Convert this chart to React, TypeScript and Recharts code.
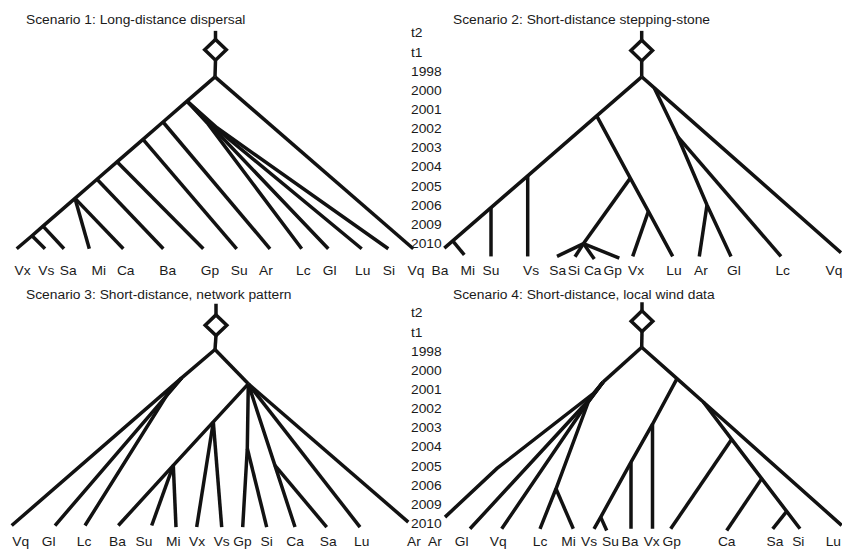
import React from "react";
import { LineChart, Line, XAxis, YAxis } from "recharts";

type Pt = [number, number];

// time levels shown between the panels (0 = t2 ... 11 = 2010)
const YEARS = ["t2", "t1", "1998", "2000", "2001", "2002", "2003", "2004", "2005", "2006", "2009", "2010"];
const YEAR_TICKS = YEARS.map((_, i) => i);

// Scenario 1
const S1_TITLE = "Scenario 1: Long-distance dispersal";
const S1_LABELS = ["Vx", "Vs", "Sa", "Mi", "Ca", "Ba", "Gp", "Su", "Ar", "Lc", "Gl", "Lu", "Si", "Vq"];
const S1_LABEL_X = [2.25, 4.63, 6.83, 9.87, 12.57, 16.77, 21.0, 23.93, 26.6, 30.33, 32.97, 36.27, 38.9, 41.6];
const S1_ORIGIN = { x: 21.55, top: -0.12, mid: 0.87 };
const S1_NODES: Record<string, Pt> = {
  R: [21.5, 2.28], A: [18.7, 3.55], B: [16.3, 4.64], C: [14.3, 5.55], D: [11.7, 6.72],
  E: [9.7, 7.63], F: [7.5, 8.63], G: [4.3, 10.08], H: [3.2, 10.58],
  k1: [20.8, 4.74], k2: [21.1, 4.84], k3: [21.4, 4.89], k4: [21.7, 4.94],
  Vx: [1.67, 11.26], Vs: [4.5, 11.26], Sa: [6.4, 11.26], Mi: [8.93, 11.26], Ca: [12.33, 11.26],
  Ba: [16.33, 11.26], Gp: [20.33, 11.26], Su: [23.67, 11.26], Ar: [27.0, 11.26], Lc: [30.17, 11.26],
  Gl: [32.83, 11.26], Lu: [36.17, 11.26], Si: [38.83, 11.26], Vq: [41.33, 11.26],
};
const S1_PATHS = [
  ["R", "A", "B", "C", "D", "E", "F", "G", "H", "Vx"], ["R", "Vq"], ["H", "Vs"], ["G", "Sa"],
  ["F", "Mi"], ["F", "Ca"], ["E", "Ba"], ["D", "Gp"], ["C", "Su"], ["B", "Ar"],
  ["A", "k1", "Lc"], ["A", "k2", "Gl"], ["A", "k3", "Lu"], ["A", "k4", "Si"],
];

// Scenario 2
const S2_TITLE = "Scenario 2: Short-distance stepping-stone";
const S2_LABELS = ["Ba", "Mi", "Su", "Vs", "Sa", "Si", "Ca", "Gp", "Vx", "Lu", "Ar", "Gl", "Lc", "Vq"];
const S2_LABEL_X = [1.9, 4.67, 7.0, 11.0, 13.67, 15.3, 17.17, 19.17, 21.5, 25.3, 28.0, 31.3, 36.17, 41.3];
const S2_ORIGIN = { x: 22.07, top: -0.12, mid: 0.91 };
const S2_NODES: Record<string, Pt> = {
  R: [22.07, 2.28], P: [17.57, 4.32], Q: [10.67, 7.45], Sn: [7.0, 9.11], Bn: [3.17, 10.85],
  Cn: [20.93, 7.57], Xn: [22.74, 9.31], Kn: [16.25, 10.99], V: [23.33, 2.86], T: [25.67, 5.4], U: [28.6, 8.97],
  Ba: [2.33, 11.23], Mi: [4.33, 11.58], Su: [7.0, 11.66], Vs: [10.67, 11.66], Sa: [13.6, 11.66],
  Si: [15.4, 11.68], Ca: [17.33, 11.8], Gp: [19.83, 11.75], Vx: [21.17, 11.66], Lu: [25.17, 11.66],
  Ar: [27.83, 11.66], Gl: [31.0, 11.66], Lc: [36.0, 11.66], Vq: [42.0, 11.46],
};
const S2_PATHS = [
  ["R", "P", "Q", "Sn", "Bn", "Ba"], ["Bn", "Mi"], ["Sn", "Su"], ["Q", "Vs"],
  ["P", "Cn", "Xn", "Lu"], ["Xn", "Vx"], ["Cn", "Kn"], ["Kn", "Sa"], ["Kn", "Si"], ["Kn", "Ca"], ["Kn", "Gp"],
  ["R", "V", "Vq"], ["V", "T", "U", "Gl"], ["T", "Lc"], ["U", "Ar"],
];

// Scenario 3
const S3_TITLE = "Scenario 3: Short-distance, network pattern";
const S3_LABELS = ["Vq", "Gl", "Lc", "Ba", "Su", "Mi", "Vx", "Vs", "Gp", "Si", "Ca", "Sa", "Lu", "Ar"];
const S3_LABEL_X = [2.07, 4.87, 8.4, 11.75, 14.4, 17.33, 19.7, 22.17, 24.25, 26.67, 29.5, 32.83, 36.17, 41.4];
const S3_ORIGIN = { x: 21.6, top: -0.49, mid: 0.63 };
const S3_NODES: Record<string, Pt> = {
  R: [21.5, 1.9], L1: [18.17, 3.38], g1: [17.2, 3.98], c1: [16.8, 4.19], R1: [24.83, 3.69],
  Xn: [21.33, 5.68], Mn: [17.33, 7.95], Gn: [24.73, 7.07], Sn: [27.49, 7.95],
  Vq: [1.17, 11.09], Gl: [5.5, 11.09], Lc: [8.5, 11.09], Ba: [11.83, 11.09], Su: [15.17, 11.09],
  Mi: [17.6, 11.17], Vx: [19.67, 11.17], Vs: [22.17, 11.17], Gp: [24.27, 11.17], Si: [26.67, 11.17],
  Ca: [29.5, 11.17], Sa: [32.67, 11.17], Lu: [36.0, 11.17], Ar: [40.83, 10.91],
};
const S3_PATHS = [
  ["R", "L1", "Vq"], ["L1", "g1", "Gl"], ["L1", "c1", "Lc"], ["R", "R1"],
  ["R1", "Xn", "Mn", "Ba"], ["Xn", "Vx"], ["Xn", "Vs"], ["Mn", "Su"], ["Mn", "Mi"],
  ["R1", "Gn", "Gp"], ["Gn", "Si"], ["R1", "Sn", "Ca"], ["Sn", "Sa"], ["R1", "Lu"], ["R1", "Ar"],
];

// Scenario 4
const S4_TITLE = "Scenario 4: Short-distance, local wind data";
const S4_LABELS = ["Ar", "Gl", "Vq", "Lc", "Mi", "Vs", "Su", "Ba", "Vx", "Gp", "Ca", "Sa", "Si", "Lu"];
const S4_LABEL_X = [1.4, 4.07, 7.73, 11.9, 14.75, 16.8, 18.95, 20.9, 23.07, 25.07, 30.57, 35.4, 37.73, 41.23];
const S4_ORIGIN = { x: 22.1, top: -0.57, mid: 0.42 };
const S4_NODES: Record<string, Pt> = {
  R: [22.07, 1.78], L1: [18.2, 3.6], a1: [17.23, 4.2], a2: [7.6, 8.11], g1: [16.9, 4.47],
  q1: [16.57, 4.73], c1: [16.73, 4.64], Mn: [13.5, 9.17], R1: [25.6, 3.42], Xn: [23.15, 5.8],
  Bn: [21.0, 7.78], Vn: [17.97, 10.65], S0: [28.23, 4.64], Gn: [31.07, 6.59], Cn: [34.07, 8.64], An: [36.57, 10.35],
  Ar: [2.4, 10.65], Gl: [4.9, 11.26], Vq: [8.07, 11.26], Lc: [11.9, 11.26], Mi: [15.23, 11.26],
  Vs: [17.3, 11.26], Su: [18.57, 11.35], Ba: [21.0, 11.26], Vx: [23.15, 11.26], Gp: [24.97, 11.26],
  Ca: [30.57, 11.35], Sa: [35.17, 11.26], Si: [37.9, 11.26], Lu: [42.07, 11.08],
};
const S4_PATHS = [
  ["R", "L1"], ["L1", "a1", "a2", "Ar"], ["L1", "g1", "Gl"], ["L1", "q1", "Vq"], ["L1", "c1", "Mn", "Lc"], ["Mn", "Mi"],
  ["R", "R1", "S0", "Lu"], ["R1", "Xn", "Bn", "Vn", "Vs"], ["Vn", "Su"], ["Xn", "Vx"], ["Bn", "Ba"],
  ["S0", "Gn", "Cn", "An", "Si"], ["Gn", "Gp"], ["Cn", "Ca"], ["An", "Sa"],
];

const INK = "#121212";
const TEXT = "#1a1a1a";
const FONT = "'Liberation Sans', Arial, sans-serif";
const FS = 12;
const SX = 1.15; // the source lettering is wider than it is tall
const LEVEL = 19.15; // px per time level
const PANEL_W = 421;
const X_MAX = 42.1;
const DW = 1.08; // diamond half width (x units)
const DH = 0.54; // diamond half height (levels)

const makeTick = (labels: string[], ticks: number[], anchor: "middle" | "start", dy: string) =>
  (props: any) => {
    const i = typeof props.index === "number" ? props.index : ticks.indexOf(props.payload?.value);
    return (
      <text
        transform={`translate(${props.x},${props.y}) scale(${SX},1)`}
        textAnchor={anchor}
        dy={dy}
        fontSize={FS}
        fontFamily={FONT}
        fill={TEXT}
      >
        {labels[i]}
      </text>
    );
  };

interface TreeProps {
  nodes: Record<string, Pt>;
  paths: string[][];
  origin: { x: number; top: number; mid: number };
  labels: string[];
  labelX: number[];
  yMax: number;
  years?: boolean;
}

function Tree({ nodes, paths, origin, labels, labelX, yMax, years }: TreeProps) {
  const segs = paths.map((p) => p.map((id) => ({ x: nodes[id][0], y: nodes[id][1] })));
  const { x, top, mid } = origin;
  segs.push([{ x, y: top }, { x, y: mid - DH }]);
  segs.push([{ x, y: mid + DH }, { x: nodes.R[0], y: nodes.R[1] }]);
  segs.push([
    { x: x - DW, y: mid },
    { x, y: mid - DH },
    { x: x + DW, y: mid },
    { x, y: mid + DH },
    { x: x - DW, y: mid },
    { x, y: mid - DH },
  ]);
  const axisW = years ? 40 : 0;
  const plotH = (yMax + 1) * LEVEL;
  return (
    <LineChart width={PANEL_W + axisW} height={plotH + 20} margin={{ top: 0, right: 0, bottom: 0, left: 0 }}>
      <XAxis
        type="number"
        dataKey="x"
        domain={[0, X_MAX]}
        allowDataOverflow
        ticks={labelX}
        interval={0}
        tick={makeTick(labels, labelX, "middle", "0.71em")}
        tickSize={0}
        tickMargin={4}
        axisLine={false}
        tickLine={false}
        height={20}
      />
      <YAxis
        type="number"
        domain={[-1, yMax]}
        allowDataOverflow
        reversed
        hide={!years}
        orientation="right"
        ticks={YEAR_TICKS}
        interval={0}
        tick={makeTick(YEARS, YEAR_TICKS, "start", "0.355em")}
        tickSize={0}
        tickMargin={-10}
        axisLine={false}
        tickLine={false}
        width={axisW}
      />
      {segs.map((d, i) => (
        <Line
          key={i}
          data={d}
          dataKey="y"
          type="linear"
          stroke={INK}
          strokeWidth={3.5}
          strokeLinejoin="miter"
          dot={false}
          activeDot={false}
          legendType="none"
          isAnimationActive={false}
        />
      ))}
    </LineChart>
  );
}

const titleStyle = (left: number, top: number): React.CSSProperties => ({
  position: "absolute",
  left,
  top,
  fontFamily: FONT,
  fontSize: FS,
  lineHeight: "12px",
  color: TEXT,
  whiteSpace: "nowrap",
  transform: `scaleX(${SX})`,
  transformOrigin: "left top",
});

export default function App() {
  const topRow = 33.3 - LEVEL;
  const bottomRow = 312.7 - LEVEL;
  return (
    <div style={{ position: "absolute", left: 0, top: 0, width: 842, height: 550, overflow: "hidden", background: "#fff" }}>
      <div style={{ position: "absolute", left: 0, top: topRow }}>
        <Tree nodes={S1_NODES} paths={S1_PATHS} origin={S1_ORIGIN} labels={S1_LABELS} labelX={S1_LABEL_X} yMax={12} years />
      </div>
      <div style={{ position: "absolute", left: PANEL_W, top: topRow }}>
        <Tree nodes={S2_NODES} paths={S2_PATHS} origin={S2_ORIGIN} labels={S2_LABELS} labelX={S2_LABEL_X} yMax={12} />
      </div>
      <div style={{ position: "absolute", left: 0, top: bottomRow }}>
        <Tree nodes={S3_NODES} paths={S3_PATHS} origin={S3_ORIGIN} labels={S3_LABELS} labelX={S3_LABEL_X} yMax={11.5} years />
      </div>
      <div style={{ position: "absolute", left: PANEL_W, top: bottomRow }}>
        <Tree nodes={S4_NODES} paths={S4_PATHS} origin={S4_ORIGIN} labels={S4_LABELS} labelX={S4_LABEL_X} yMax={11.5} />
      </div>
      <div style={titleStyle(26, 13.5)}>{S1_TITLE}</div>
      <div style={titleStyle(453, 13.5)}>{S2_TITLE}</div>
      <div style={titleStyle(26, 288.5)}>{S3_TITLE}</div>
      <div style={titleStyle(453, 288.5)}>{S4_TITLE}</div>
    </div>
  );
}
